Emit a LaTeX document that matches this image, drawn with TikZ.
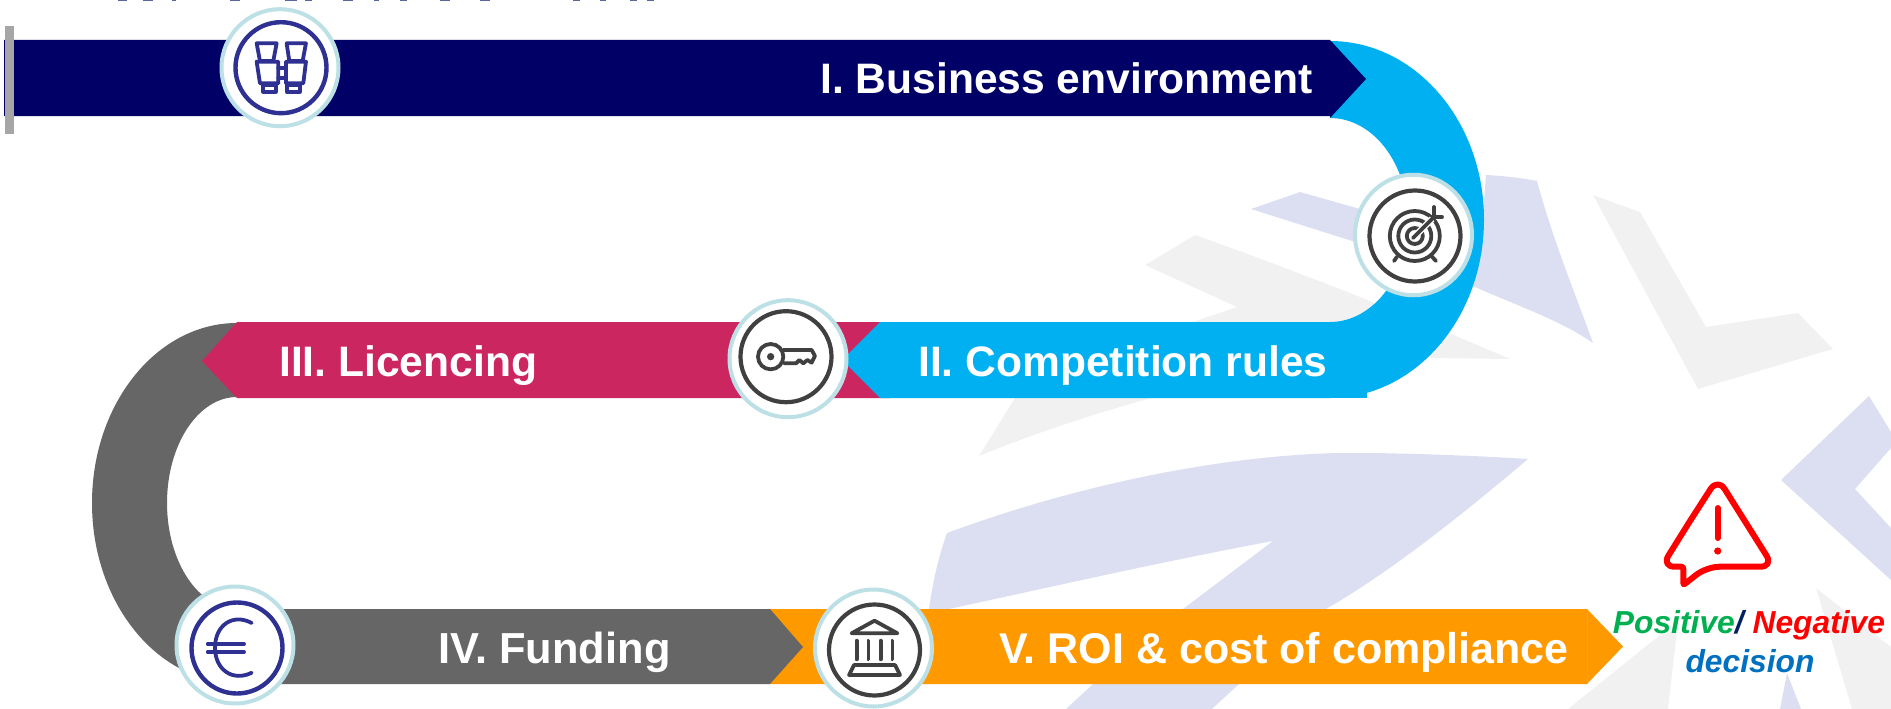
\documentclass[tikz,border=0pt]{standalone}
\usepackage{fontspec}
\setmainfont{Liberation Sans}
\definecolor{navybar}{HTML}{000066}
\definecolor{skybar}{HTML}{00B0F0}
\definecolor{crimsonbar}{HTML}{CC2660}
\definecolor{greybar}{HTML}{666666}
\definecolor{orangebar}{HTML}{FF9900}
\definecolor{teal}{HTML}{BCE0E5}
\definecolor{iconblue}{HTML}{2E3192}
\definecolor{icondark}{HTML}{404040}
\definecolor{lav}{HTML}{DCDFF1}
\definecolor{palegrey}{HTML}{F1F1F1}
\definecolor{titleink}{HTML}{5A66A0}
\definecolor{posgreen}{HTML}{00B050}
\definecolor{decblue}{HTML}{0070C0}
\definecolor{slashnavy}{HTML}{002060}
\tikzset{
  ring/.style={circle,draw=teal,line width=4pt,fill=white,minimum size=117pt,inner sep=0pt},
  innerblue/.style={circle,draw=iconblue,line width=4.4pt,minimum size=91pt,inner sep=0pt},
  innerdark/.style={circle,draw=icondark,line width=4.2pt,minimum size=91pt,inner sep=0pt},
  iconb/.style={draw=iconblue,line width=3.8pt,line join=round,line cap=round},
  icond/.style={draw=icondark,line width=3.8pt,line join=round,line cap=round},
  barlabel/.style={anchor=base west,inner sep=0pt,text=white,font=\fontsize{42.6}{50}\selectfont\bfseries},
  declabel/.style={anchor=base,inner sep=0pt,font=\fontsize{31.8}{36}\selectfont\bfseries\itshape},
}
\begin{document}
\begin{tikzpicture}[x=1pt,y=-1pt]
\useasboundingbox (0,0) rectangle (1891,709);
% faded background
\fill[lav] (1251,209) -- (1300,192) -- (1360,209) -- (1480,250) -- (1486,175) .. controls (1505,176) and (1522,178) .. (1537,181)
  .. controls (1553,240) and (1572,285) .. (1593,343) .. controls (1560,320) and (1515,305) .. (1473,286) -- (1352,241) -- cycle;
\fill[palegrey] (1145,265) -- (1195,235) .. controls (1300,272) and (1420,320) .. (1510,359)
  -- (1428,358) .. controls (1330,362) and (1240,372) .. (1151,398) .. controls (1090,415) and (1030,435) .. (979,456)
  -- (1015,398) .. controls (1090,365) and (1160,335) .. (1193,322) -- (1237,307) -- cycle;
\fill[palegrey] (1593,195) -- (1640,212) -- (1706,327) -- (1798,313) -- (1833,349) -- (1698,389) -- cycle;
\fill[lav] (947,533) .. controls (1090,480) and (1250,450) .. (1373,453) .. controls (1430,454) and (1480,456) .. (1528,459)
  .. controls (1450,525) and (1385,575) .. (1326,609) -- (1239,684) -- (1212,709) -- (1066,709) -- (1093,684) -- (1183,609)
  -- (1273,541) .. controls (1170,560) and (1060,585) .. (949,609) -- (929,609) .. controls (933,580) and (939,555) .. (947,533) -- cycle;
\fill[lav] (1781,480) -- (1869,396) -- (1891,432) -- (1891,448) -- (1855,489) -- (1891,528) -- (1891,580) -- cycle;
\fill[palegrey] (1816,588) -- (1891,647) -- (1891,709) -- (1852,709) -- cycle;
\fill[palegrey] (1568,709) -- (1660,635) -- (1677,630) -- (1668,709) -- cycle;
\fill[lav] (1780,709) -- (1787,673) -- (1801,709) -- cycle;
% clipped title remnants
\foreach \xa/\xb in {118/127,143/153,172/176,230/240,285/297,305/312,343/353,374/379,400/407,440/450,480/490,573/580,600/606,630/637,647/654}
  \fill[titleink] (\xa,0) rectangle (\xb,1.4);
% band I -> II
\fill[skybar] (1330,41) arc[start angle=-90,end angle=90,x radius=154,y radius=178.5] -- (1330,322)
  arc[start angle=90,end angle=-90,x radius=78,y radius=102] -- cycle;
% band III -> IV
\fill[greybar] (237,323) arc[start angle=-90,end angle=-270,x radius=145,y radius=180] -- (237,609)
  arc[start angle=-270,end angle=-90,x radius=70,y radius=106] -- cycle;
% bars
\fill[orangebar] (770,609) -- (1587,609) -- (1623,646.5) -- (1587,684) -- (770,684) -- cycle;
\draw[orangebar!92!white,line width=.6pt] (1587,609) -- (1587,684);
\fill[greybar] (237,609) -- (770,609) -- (803,647) -- (770,684) -- (237,684) -- cycle;
\fill[crimsonbar] (237,322) -- (890,322) -- (890,398) -- (237,398) -- (202,361) -- cycle;
\fill[skybar] (880,322) -- (1330,322) -- (1330,398) -- (880,398) -- (842,360) -- cycle;
\fill[skybar] (1330,322) rectangle (1366.5,398);
\fill[navybar] (4,40) -- (1330,40) -- (1366,79) -- (1330,118) -- (1330,116) -- (4,116) -- cycle;
\fill[black!35] (5,26) rectangle (14,134);
% labels
\node[barlabel] (lab1) at (820,93) {I. Business environment};
\node[barlabel] (lab2) at (918,376) {II. Competition rules};
\node[barlabel] (lab3) at (279,376) {III. Licencing};
\node[barlabel,font=\fontsize{43.4}{50}\selectfont\bfseries] (lab4) at (438,663) {IV. Funding};
\node[barlabel,font=\fontsize{43}{50}\selectfont\bfseries] (lab5) at (999,663) {V. ROI \& cost of compliance};
\node[declabel] (dec1) at (1749,633) {\textcolor{posgreen}{Positive}\textcolor{slashnavy}{/} \textcolor{red}{Negative}};
\node[declabel,text=decblue] (dec2) at (1750,672) {decision};
% rings
\node[ring] (r1) at (280,67.7) {};
\node[innerblue] (c1) at (281,67.7) {};
\node[ring,yscale=1.03] (r2) at (1413.5,235) {};
\node[innerdark] (c2) at (1415,236) {};
\node[ring] (r3) at (788,358.7) {};
\node[innerdark] (c3) at (786,356.7) {};
\node[ring] (r4) at (235,645) {};
\node[innerblue] (c4) at (237,648) {};
\node[ring] (r5) at (873.5,648) {};
\node[innerdark] (c5) at (874.5,650) {};
% binoculars
\begin{scope}[x=.3333pt,y=-.3333pt]
\draw[iconb] (770,130) -- (830,130) -- (820,183) -- (780,183) -- cycle;
\draw[iconb] (860,130) -- (918,130) -- (908,183) -- (868,183) -- cycle;
\draw[iconb] (770,185) -- (835,185) -- (835,250) -- (780,250) -- cycle;
\draw[iconb] (858,185) -- (918,185) -- (910,250) -- (858,250) -- cycle;
\draw[iconb] (790,255) -- (828,255) -- (828,275) -- (790,275) -- cycle;
\draw[iconb] (860,255) -- (900,255) -- (900,275) -- (860,275) -- cycle;
\draw[iconb] (835,205) -- (858,205) (835,235) -- (858,235);
\end{scope}
% target
\draw[icond] (1414.8,236) circle (25) (1414.8,236) circle (16.5);
\draw[icond] (1414.8,236) circle (8);
\draw[white,line width=6.5pt] (1417,234) -- (1432,219);
\draw[icond] (1413,238) -- (1435,216);
\draw[icond] (1434,207) -- (1434,217) -- (1442,217);
\draw[icond] (1397,256.7) -- (1394,261);
\draw[icond] (1432,256.7) -- (1436,261);
% key
\begin{scope}[shift={(700,280)},x=.3333pt,y=-.3333pt]
\draw[icond] (212,230) circle[radius=38];
\fill[icondark] (212,230) circle[radius=11];
\draw[icond] (250,210) -- (335,210) -- (345,228) -- (335,248) -- (322,240) -- (310,250) -- (298,240) -- (288,250) -- (252,250);
\end{scope}
% euro
\draw[iconb] (251.7,623) .. controls (233,613) and (215,625) .. (215,647.7) .. controls (215,670) and (233,682) .. (251.7,672.7);
\draw[iconb] (207.7,644) -- (244,644) (207.7,652) -- (244,652);
% bank
\draw[icond] (874.5,620.7) -- (851.6,633.3) -- (897.4,633.3) -- cycle;
\draw[icond] (856.6,640.7) -- (856.6,659.3) (868.4,640.7) -- (868.4,659.3) (880.6,640.7) -- (880.6,659.3) (892.4,640.7) -- (892.4,659.3);
\draw[icond] (854,665) -- (895,665) -- (900,675) -- (849,675) -- cycle;
% alert
\draw[red,line width=6pt,line join=round,line cap=round,rounded corners=13pt]
  (1690,521) -- (1717.7,478) -- (1773.5,566.7) -- (1706.7,566.7) [rounded corners=2pt] -- (1683.3,585) -- (1683.3,566.7) [rounded corners=13pt] -- (1661.5,566.7) -- (1690,521);
\draw[red,line width=6pt,line cap=round] (1717.7,508) -- (1717.7,538);
\fill[red] (1717.7,551) circle (3.6);
\end{tikzpicture}
\end{document}
